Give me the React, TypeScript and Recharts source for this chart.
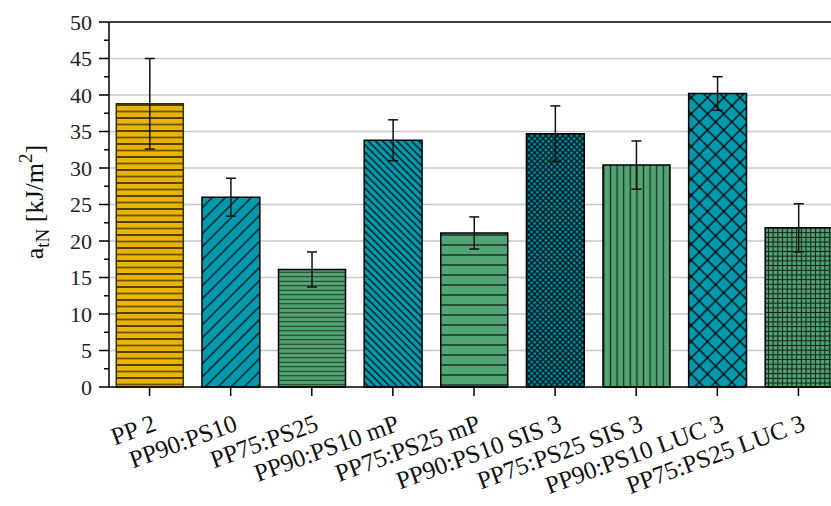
import { BarChart, Bar, XAxis, YAxis, CartesianGrid, ErrorBar, ReferenceLine, Rectangle } from 'recharts'

const categories = [
  'PP 2', 'PP90:PS10', 'PP75:PS25', 'PP90:PS10 mP', 'PP75:PS25 mP',
  'PP90:PS10 SIS 3', 'PP75:PS25 SIS 3', 'PP90:PS10 LUC 3', 'PP75:PS25 LUC 3',
]
const values = [38.8, 26.0, 16.1, 33.8, 21.1, 34.7, 30.4, 40.2, 21.8]
const errors = [6.2, 2.6, 2.4, 2.8, 2.2, 3.8, 3.3, 2.3, 3.3]
const yTicks = [0, 2.5, 5, 7.5, 10, 12.5, 15, 17.5, 20, 22.5, 25, 27.5, 30, 32.5, 35, 37.5, 40, 42.5, 45, 47.5, 50]
const gridValues = [5, 10, 15, 20, 25, 30, 35, 40, 45]

const data = categories.map((name, i) => ({ name, value: values[i], err: errors[i] }))

const F = '"Liberation Serif", "Times New Roman", serif'
const YEL = '#e8b400'
const TEAL = '#0099ad'
const GRN = '#52a673'
// the teal (PP90) bars are drawn a bit narrower than the others
const NARROW = [false, true, false, true, false, true, false, true, false]

function YTick({ x, y, payload }: any) {
  const v = payload.value
  const major = v % 5 === 0
  return (
    <g>
      <line x1={x - (major ? 10 : 5)} x2={x} y1={y} y2={y} stroke="#000" strokeWidth={1.5} />
      {major && (
        <text x={x - 17} y={y + 7.5} textAnchor="end" fontFamily={F} fontSize={22} fill="#222">
          {v}
        </text>
      )}
    </g>
  )
}

function XTick({ x, y, payload }: any) {
  return (
    <g>
      <line x1={x} x2={x} y1={y} y2={y + 9} stroke="#000" strokeWidth={1.5} />
      <text
        x={x + 8}
        y={y + 43}
        textAnchor="end"
        fontFamily={F}
        fontSize={25}
        fill="#111"
        transform={`rotate(-20, ${x + 8}, ${y + 43})`}
      >
        {payload.value}
      </text>
    </g>
  )
}

function YLabel() {
  return (
    <text
      x={43}
      y={202}
      textAnchor="middle"
      fontFamily={F}
      fontSize={26}
      fill="#111"
      transform="rotate(-90, 43, 202)"
    >
      <tspan>a</tspan>
      <tspan fontSize={19} dy={6}>tN</tspan>
      <tspan dy={-6}> [kJ/m</tspan>
      <tspan fontSize={19} dy={-11}>2</tspan>
      <tspan dy={11}>]</tspan>
    </text>
  )
}

function BarShape(props: any) {
  const { x, y, width, height, index } = props
  const w = NARROW[index] ? width * 57 / 66 : width
  return (
    <Rectangle
      x={x + (width - w) / 2}
      y={y}
      width={w}
      height={height}
      fill={`url(#p${index})`}
      stroke={index === 0 ? '#3d3000' : '#000'}
      strokeWidth={1.5}
    />
  )
}

export default function App() {
  return (
    <div style={{ position: 'absolute', left: 0, top: 0, width: 831, height: 506, overflow: 'hidden', background: '#fff' }}>
      <BarChart
        width={840}
        height={506}
        data={data}
        margin={{ top: 22, right: 1, left: 0, bottom: 0 }}
        barCategoryGap="9%"
      >
        <defs>
          <pattern id="p0" patternUnits="userSpaceOnUse" width={10} height={13}>
            <rect width={10} height={13} fill={YEL} />
            <line x1={0} x2={10} y1={1} y2={1} stroke="#000" strokeWidth={1.3} />
            <line x1={0} x2={10} y1={7.5} y2={7.5} stroke="#6b5500" strokeWidth={1.8} />
          </pattern>
          <pattern id="p1" patternUnits="userSpaceOnUse" width={9.2} height={9.2} patternTransform="rotate(45)">
            <rect width={9.2} height={9.2} fill={TEAL} />
            <line x1={4.6} x2={4.6} y1={0} y2={9.2} stroke="#000" strokeWidth={1.2} />
          </pattern>
          <pattern id="p2" patternUnits="userSpaceOnUse" width={10} height={4.5}>
            <rect width={10} height={4.5} fill={GRN} />
            <line x1={0} x2={10} y1={2.25} y2={2.25} stroke="#1f3a28" strokeWidth={1.1} />
          </pattern>
          <pattern id="p3" patternUnits="userSpaceOnUse" width={5.1} height={5.1} patternTransform="rotate(-45)">
            <rect width={5.1} height={5.1} fill={TEAL} />
            <line x1={2.55} x2={2.55} y1={0} y2={5.1} stroke="#000" strokeWidth={1.2} />
          </pattern>
          <pattern id="p4" patternUnits="userSpaceOnUse" width={10} height={10}>
            <rect width={10} height={10} fill={GRN} />
            <line x1={0} x2={10} y1={5} y2={5} stroke="#111" strokeWidth={1.2} />
          </pattern>
          <pattern id="p5" patternUnits="userSpaceOnUse" width={4} height={4} patternTransform="rotate(45)">
            <rect width={4} height={4} fill={TEAL} />
            <line x1={2} x2={2} y1={0} y2={4} stroke="#000" strokeWidth={1.2} />
            <line x1={0} x2={4} y1={2} y2={2} stroke="#000" strokeWidth={1.2} />
          </pattern>
          <pattern id="p6" patternUnits="userSpaceOnUse" width={6.6} height={10}>
            <rect width={6.6} height={10} fill={GRN} />
            <line x1={3.3} x2={3.3} y1={0} y2={10} stroke="#1a2e20" strokeWidth={1.3} />
          </pattern>
          <pattern id="p7" patternUnits="userSpaceOnUse" width={11.5} height={11.5} patternTransform="rotate(45)">
            <rect width={11.5} height={11.5} fill={TEAL} />
            <line x1={5.75} x2={5.75} y1={0} y2={11.5} stroke="#000" strokeWidth={1.3} />
            <line x1={0} x2={11.5} y1={5.75} y2={5.75} stroke="#000" strokeWidth={1.3} />
          </pattern>
          <pattern id="p8" patternUnits="userSpaceOnUse" width={4.7} height={4.7}>
            <rect width={4.7} height={4.7} fill={GRN} />
            <line x1={2.35} x2={2.35} y1={0} y2={4.7} stroke="#112218" strokeWidth={1.1} />
            <line x1={0} x2={4.7} y1={2.35} y2={2.35} stroke="#112218" strokeWidth={1.1} />
          </pattern>
        </defs>
        <CartesianGrid vertical={false} horizontalValues={gridValues} stroke="#c8c8c8" strokeWidth={1.5} />
        <XAxis
          dataKey="name"
          interval={0}
          height={119}
          tickSize={0}
          tickMargin={0}
          tickLine={false}
          axisLine={{ stroke: '#000', strokeWidth: 1.5 }}
          tick={<XTick />}
        />
        <YAxis
          type="number"
          domain={[0, 50]}
          ticks={yTicks}
          interval={0}
          width={109}
          tickSize={0}
          tickMargin={0}
          tickLine={false}
          axisLine={{ stroke: '#000', strokeWidth: 1.5 }}
          tick={<YTick />}
          label={{ content: () => <YLabel /> }}
        />
        <ReferenceLine y={50} stroke="#000" strokeWidth={1.5} />
        <Bar dataKey="value" shape={<BarShape />} isAnimationActive={false}>
          <ErrorBar dataKey="err" width={5} stroke="#111" strokeWidth={1.5} direction="y" isAnimationActive={false} />
        </Bar>
      </BarChart>
    </div>
  )
}
